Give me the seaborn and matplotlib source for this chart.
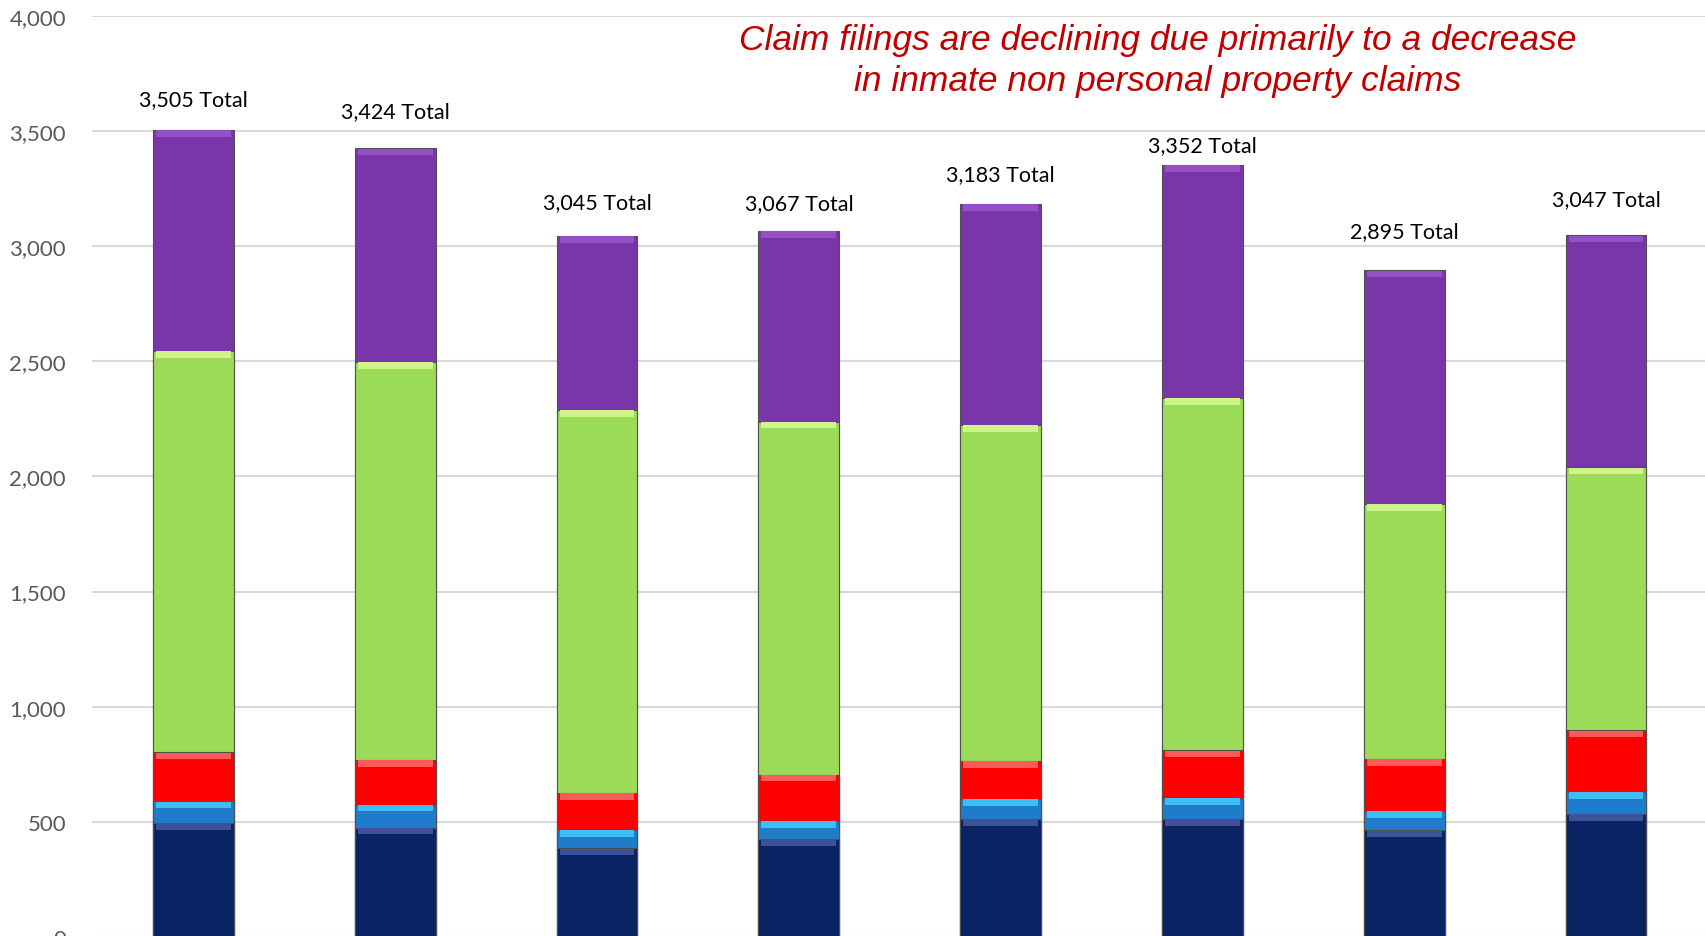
import numpy as np
import matplotlib
matplotlib.use("Agg")
import matplotlib.pyplot as plt
import seaborn as sns

# categories (x labels are cut off in the reference)
years = ["Y1", "Y2", "Y3", "Y4", "Y5", "Y6", "Y7", "Y8"]

# claim segments, bottom to top
navy = [495, 475, 385, 425, 513, 510, 463, 535]
light_blue = [95, 100, 80, 80, 87, 95, 85, 95]
red = [212, 195, 160, 200, 165, 205, 225, 268]
green = [1743, 1727, 1664, 1533, 1458, 1531, 1107, 1141]
totals = [3505, 3424, 3045, 3067, 3183, 3352, 2895, 3047]
purple = [t - n - lb - r - g for t, n, lb, r, g in zip(totals, navy, light_blue, red, green)]

# pixel offsets of the "Total" labels above each bar (hand placed in the original)
label_dy = [31, 37, 34, 28, 30, 20, 39, 36]

layers = [navy, light_blue, red, green, purple]
colors = ["#0A2463", "#1F7CCB", "#FF0000", "#9BDB57", "#7836A8"]
bevel = ["#3E5199", "#3DBEF5", "#FF5A5A", "#CDF58A", "#9550C4"]

sns.set_style("white")
plt.rcParams['font.family'] = ['Lato', 'DejaVu Sans']

fig = plt.figure(figsize=(17.05, 9.37), dpi=100)
ax = fig.add_axes([0.05425, -0.001, 0.9469, 0.9831])

cum = np.cumsum(np.array(layers), axis=0)
# draw from the top layer down so lower segments cover the upper ones
for i in range(len(layers) - 1, -1, -1):
    sns.barplot(x=years, y=cum[i], color=colors[i], saturation=1, width=0.4,
                edgecolor="#505050", linewidth=0.8, ax=ax, zorder=3)

# light strip along the top of every segment (bevel look)
x = np.arange(len(years))
for i in range(len(layers)):
    ax.bar(x, 28, bottom=cum[i] - 30, width=0.37, color=bevel[i], linewidth=0, zorder=4)

for xi, t, dy in zip(x, totals, label_dy):
    ax.annotate(f"{t:,} Total", (xi, t), xytext=(0, dy * 0.72), textcoords="offset points",
                ha="center", va="center", fontsize=15.5, color="black")

ax.set_xlim(-0.5, 7.5)
ax.set_ylim(0, 4000)
ax.set_yticks(np.arange(0, 4001, 500))
ax.yaxis.set_major_formatter(matplotlib.ticker.FuncFormatter(lambda v, p: f"{int(v):,}"))
ax.tick_params(axis="y", length=0, pad=19, labelsize=16, labelcolor="#595959")
ax.set_xticks([])
ax.set_xlabel("")
ax.set_ylabel("")
ax.grid(axis="y", color="#D9D9D9", linewidth=1.5, zorder=0)
ax.set_axisbelow(True)
for s in ax.spines.values():
    s.set_visible(False)

fig.text(1158 / 1705, 1 - 61 / 937,
         "Claim filings are declining due primarily to a decrease\nin inmate non personal property claims",
         ha="center", va="center", fontsize=25.5, color="#C00000", style="italic",
         family=['Liberation Sans', 'DejaVu Sans'], linespacing=1.3)

fig.savefig("out.png", dpi=100)
